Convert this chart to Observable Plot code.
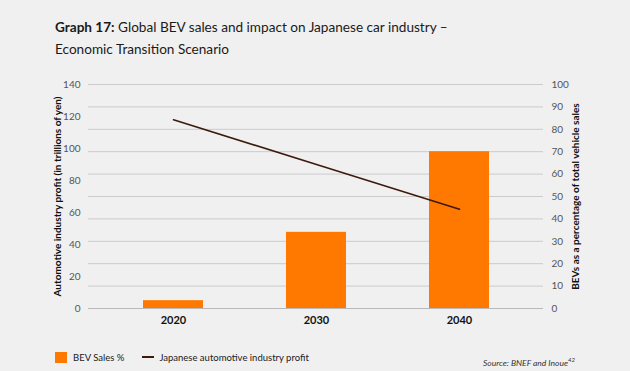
<!DOCTYPE html>
<html>
<head>
<meta charset="utf-8">
<script src="https://cdn.jsdelivr.net/npm/d3@7"></script>
<script src="https://cdn.jsdelivr.net/npm/@observablehq/plot@0.6"></script>
<style>
  html, body { margin: 0; padding: 0; }
  body { width: 630px; height: 371px; overflow: hidden; background: #f0f0f0; position: relative; font-family: Lato, "Open Sans", sans-serif; }
  #title { position: absolute; left: 55px; top: 16px; font-size: 13.6px; line-height: 22px; color: #1a1a1a; }
  #title b { font-weight: 700; }
  #chart { position: absolute; left: 0; top: 70px; }
  #legend { position: absolute; left: 55px; top: 349px; font-size: 9.5px; color: #1a1a1a; display: flex; align-items: center; height: 16px; }
  #legend .sw { display: inline-block; width: 12px; height: 11px; background: #ff7900; margin-right: 6px; }
  #legend .ln { display: inline-block; width: 12px; height: 2px; background: #3d1a0c; margin-left: 18px; margin-right: 5px; }
  #source { position: absolute; left: 483px; top: 356px; font-size: 8.5px; font-style: italic; color: #333; }
  #source sup { font-size: 6px; }
</style>
</head>
<body>
<div id="title"><b>Graph 17:</b> Global BEV sales and impact on Japanese car industry –<br>Economic Transition Scenario</div>
<div id="chart"></div>
<div id="legend"><span class="sw"></span><span>BEV Sales %</span><span class="ln"></span><span>Japanese automotive industry profit</span></div>
<div id="source">Source: BNEF and Inoue<sup>42</sup></div>
<script>
const years = ["2020", "2030", "2040"];
const bevSales = [3.5, 34, 70];          // % of total vehicle sales (right axis)
const profit = [118, 90, 62];            // trillions of yen (left axis)
const profitTicks = [0, 20, 40, 60, 80, 100, 120, 140];
const shareTicks = [0, 10, 20, 30, 40, 50, 60, 70, 80, 90, 100];
const leftTitle = "Automotive industry profit (in trillions of yen)";
const rightTitle = "BEVs as a percentage of total vehicle sales";

const profitMax = 140, shareMax = 100;
const toShare = v => v * shareMax / profitMax;

const data = years.map((y, i) => ({year: y, bev: bevSales[i], profit: profit[i]}));

const chart = Plot.plot({
  width: 630,
  height: 265,
  marginLeft: 88,
  marginRight: 87,
  marginTop: 14,
  marginBottom: 27,
  style: {background: "transparent", fontFamily: "Lato, 'Open Sans', sans-serif", fontSize: "10px", color: "#555"},
  x: {type: "band", domain: years, paddingInner: 0.582, paddingOuter: 0.376},
  y: {domain: [0, shareMax]},
  marks: [
    Plot.gridY(shareTicks, {stroke: "#cbcbcb", strokeOpacity: 1, strokeWidth: 1}),
    Plot.ruleY([0], {stroke: "#b8b8b8", strokeWidth: 1}),
    Plot.barY(data, {x: "year", y: "bev", fill: "#ff7900"}),
    Plot.lineY(data, {x: "year", y: d => toShare(d.profit), stroke: "#3d1a0c", strokeWidth: 1.6}),
    Plot.axisY(shareTicks, {anchor: "right", tickSize: 0, tickPadding: 8, label: null, fill: "#555", fontSize: 10}),
    Plot.axisY(profitTicks.map(toShare), {anchor: "left", tickSize: 0, tickPadding: 8, label: null, fill: "#555", fontSize: 10,
      tickFormat: d => String(Math.round(d * profitMax / shareMax))}),
    Plot.axisX({tickSize: 0, tickPadding: 8, label: null, fill: "#111", fontSize: 11, fontWeight: "bold"}),
    Plot.text([leftTitle], {frameAnchor: "left", dx: -31, rotate: -90, textAnchor: "middle", fontWeight: "bold", fontSize: 10, fill: "#111", text: d => d}),
    Plot.text([rightTitle], {frameAnchor: "right", dx: 32, rotate: -90, textAnchor: "middle", fontWeight: "bold", fontSize: 10, fill: "#111", text: d => d})
  ]
});
document.getElementById("chart").appendChild(chart);
</script>
</body>
</html>
